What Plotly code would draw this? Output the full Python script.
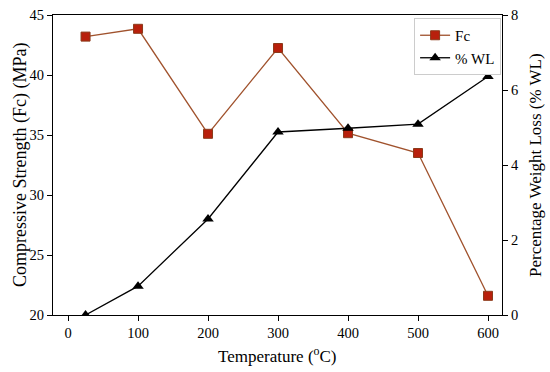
import plotly.graph_objects as go

temps = [25, 100, 200, 300, 400, 500, 600]
fc = [43.2, 43.85, 35.1, 42.25, 35.15, 33.5, 21.6]
wl = [0.0, 0.77, 2.56, 4.88, 4.98, 5.09, 6.36]

FONT = "Liberation Serif, Times New Roman, serif"

fig = go.Figure()
fig.add_trace(go.Scatter(
    x=temps, y=fc, name="Fc", mode="lines+markers",
    line=dict(color="#a0522d", width=1.3),
    marker=dict(symbol="square", size=9, color="#b8200c", line=dict(color="#8b3a1a", width=1)),
))
fig.add_trace(go.Scatter(
    x=temps, y=wl, name="% WL", mode="lines+markers", yaxis="y2",
    line=dict(color="black", width=1.3),
    marker=dict(symbol="triangle-up", size=10, color="black"),
))

axis_common = dict(showline=True, linecolor="black", linewidth=1,
                   ticks="outside", ticklen=5, tickcolor="black",
                   showgrid=False, zeroline=False, automargin=False,
                   ticklabeloverflow="allow",
                   tickfont=dict(family=FONT, size=14.5, color="black"))

fig.update_layout(
    width=550, height=372,
    margin=dict(l=53, r=48, t=15, b=57),
    paper_bgcolor="white", plot_bgcolor="white",
    font=dict(family=FONT, size=14, color="black"),
    showlegend=True,
    legend=dict(x=0.998, y=0.99, xanchor="right", yanchor="top",
                bgcolor="white", bordercolor="#cccccc", borderwidth=1,
                font=dict(family=FONT, size=15), itemwidth=30,
                tracegroupgap=0),
    xaxis=dict(range=[-21.5, 620], tickvals=[0, 100, 200, 300, 400, 500, 600],
               mirror=True, **axis_common),
    yaxis=dict(range=[20, 45], tickvals=[20, 25, 30, 35, 40, 45], **axis_common),
    yaxis2=dict(range=[0, 8], tickvals=[0, 2, 4, 6, 8], overlaying="y", side="right",
                **axis_common),
    annotations=[
        dict(text="Temperature (<sup>o</sup>C)", xref="paper", yref="paper", x=0.5, y=0,
             xanchor="center", yanchor="middle", yshift=-40, showarrow=False,
             font=dict(family=FONT, size=17)),
        dict(text="Compressive Strength (Fc) (MPa)", xref="paper", yref="paper", x=0, y=0.5,
             xanchor="center", yanchor="middle", xshift=-33, textangle=-90, showarrow=False,
             font=dict(family=FONT, size=18)),
        dict(text="Percentage Weight Loss (% WL)", xref="paper", yref="paper", x=1, y=0.5,
             xanchor="center", yanchor="middle", xshift=33, textangle=-90, showarrow=False,
             font=dict(family=FONT, size=17)),
    ],
)

fig.write_html("out.html", config={"displayModeBar": False},
               post_script="document.body.style.margin='0';")
